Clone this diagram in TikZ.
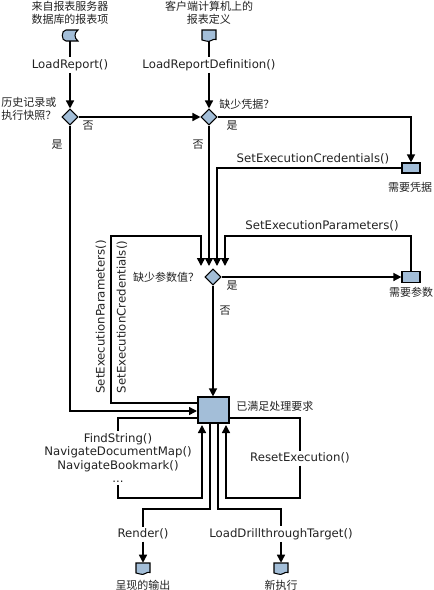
\documentclass[tikz,border=0pt]{standalone}
\usepackage{fontspec}
\setmainfont{DejaVu Sans}
\newfontfamily\cjk{Noto Sans CJK SC}
\usetikzlibrary{arrows.meta,positioning,calc,shapes.geometric}
\definecolor{shapefill}{HTML}{A3BED8}
\definecolor{labelgray}{HTML}{222222}
\tikzset{
  flow/.style={line width=1.1pt,black},
  flowarr/.style={flow,-{Triangle[length=6pt,width=6pt]}},
  lbl/.style={font=\fontsize{8.8}{10.1}\selectfont,text=labelgray,inner sep=1.5pt,align=center},
  zh/.style={font=\cjk\fontsize{8.25}{9.75}\selectfont,text=labelgray,inner sep=0pt,align=center},
  zhleft/.style={zh,align=left,anchor=west},
  decision/.style={draw=black,line width=.8pt,fill=shapefill,diamond,minimum size=12pt,inner sep=0pt},
  statebox/.style={draw=black,line width=.9pt,fill=shapefill,rectangle,inner sep=0pt},
  anchorbox/.style={rectangle,minimum width=10.5pt,minimum height=8.25pt,inner sep=0pt},
}
\newcommand{\docnode}[3]{
  \draw[draw=black,line width=.8pt,fill=shapefill] (#2-7,#3-5.5) -- (#2+7,#3-5.5) -- (#2+7,#3+4) .. controls (#2+4,#3+2.5) and (#2+1,#3+7.5) .. (#2-3,#3+5.5) -- (#2-7,#3+4.5) -- cycle;
  \node[anchorbox] (#1) at (#2,#3) {};
}
\begin{document}
\begin{tikzpicture}[x=0.75pt,y=-0.75pt]
  \useasboundingbox (0,0) rectangle (434,590);

  % sources
  \draw[draw=black,line width=.8pt,fill=shapefill] (66,30) -- (78,30) .. controls (74,33) and (74,38) .. (78,41) -- (66,41) .. controls (61,41) and (61,30) .. (66,30) -- cycle;
  \node[anchorbox] (source) at (70,35.5) {};
  \docnode{definition}{209}{35.5}
  \node[zh] (sourcetxt) at (70,12.5) {来自报表服务器\\数据库的报表项};
  \node[zh] (definitiontxt) at (209,12.5) {客户端计算机上的\\报表定义};

  \node[lbl] (loadreport) at (70,65) {LoadReport()};
  \node[lbl] (loaddef) at (209,65) {LoadReportDefinition()};

  % decisions
  \node[decision] (history) at (70,117) {};
  \node[decision] (cred) at (209,117) {};
  \node[decision] (param) at (213,277) {};
  \node[statebox,minimum width=13.5pt,minimum height=7.5pt] (needcred) at (411,168) {};
  \node[statebox,minimum width=13.5pt,minimum height=8.25pt] (needparam) at (411,277) {};
  \node[statebox,minimum width=23.25pt,minimum height=19.5pt] (ready) at (213.5,410) {};

  \node[zhleft] (historytxt) at (1,108.5) {历史记录或\\执行快照？};
  \node[zhleft] (credtxt) at (219,104) {缺少凭据？};
  \node[zh] (paramtxt) at (166,277) {缺少参数值？};
  \node[zh] (credbox) at (410,187) {需要凭据};
  \node[zh] (parambox) at (411,292) {需要参数};
  \node[zhleft] (readytxt) at (236,406) {已满足处理要求};
  \node[zh] (no1) at (88,126) {否};
  \node[zh] (yes1) at (57,145) {是};
  \node[zh] (no2) at (198,145) {否};
  \node[zh] (yes2) at (232,126) {是};
  \node[zh] (yes3) at (232,286) {是};
  \node[zh] (no3) at (225,311) {否};

  % method labels
  \node[lbl] (setcred) at (313,159) {SetExecutionCredentials()};
  \node[lbl] (setparam) at (322,226) {SetExecutionParameters()};
  \node[lbl,rotate=90] (sideparam) at (101,317) {SetExecutionParameters()};
  \node[lbl,rotate=90] (sidecred) at (122,317) {SetExecutionCredentials()};
  \node[lbl] (findlist) at (118,458) {FindString()\\NavigateDocumentMap()\\NavigateBookmark()\\...};
  \node[lbl] (reset) at (300,458) {ResetExecution()};
  \node[lbl] (render) at (143,534) {Render()};
  \node[lbl] (drill) at (281,534) {LoadDrillthroughTarget()};

  % outputs
  \docnode{output}{143}{568.5}
  \docnode{newexec}{281}{568.5}
  \node[zh] (outputtxt) at (143,585) {呈现的输出};
  \node[zh] (newexectxt) at (281,585) {新执行};

  % free ends and corners
  \coordinate (inA) at (201,266);
  \coordinate (inB) at (209,266);
  \coordinate (inC) at (217,266);
  \coordinate (inD) at (225,266);
  \coordinate (topA) at (201,236);
  \coordinate (leftA) at (111,236);
  \coordinate (backA) at (198,403);
  \coordinate (histin) at (197,411);
  \coordinate (findout) at (198,418);
  \coordinate (findin) at (202,425);
  \coordinate (findlow) at (202,498);
  \coordinate (resetout) at (229,418);
  \coordinate (resetin) at (226,425);
  \coordinate (resetlow) at (226,498);
  \coordinate (renderout) at (210,423);
  \coordinate (renderlow) at (210,509);
  \coordinate (drillout) at (218,423);
  \coordinate (drilllow) at (218,509);

  % top part
  \draw[flow] (source) -- (loadreport);
  \draw[flowarr] (loadreport) -- (history);
  \draw[flow] (definition) -- (loaddef);
  \draw[flowarr] (loaddef) -- (cred);
  \draw[flowarr] (history) -- (cred);
  \draw[flowarr] (cred) -| (needcred);
  \draw[flowarr] (cred) -- (inB);
  \draw[flowarr] (needcred) -| (inC);

  % parameters
  \draw[flowarr] (param) -- (needparam);
  \draw[flowarr] (needparam.north) |- (inD|-topA) -- (inD);
  \draw[flowarr] (backA) -| (leftA) -- (topA) -- (inA);
  \draw[flowarr] (param.south) -- (param.south|-ready.north);

  % ready box
  \draw[flowarr] (history) |- (histin);
  \draw[flow] (findout) -| (findlist);
  \draw[flowarr] (findlist) |- (findlow) -- (findin);
  \draw[flow] (resetout) -| (reset);
  \draw[flowarr] (reset) |- (resetlow) -- (resetin);
  \draw[flow] (renderout) -- (renderlow) -| (render);
  \draw[flowarr] (render) -- (output);
  \draw[flow] (drillout) -- (drilllow) -| (drill);
  \draw[flowarr] (drill) -- (newexec);
\end{tikzpicture}
\end{document}
